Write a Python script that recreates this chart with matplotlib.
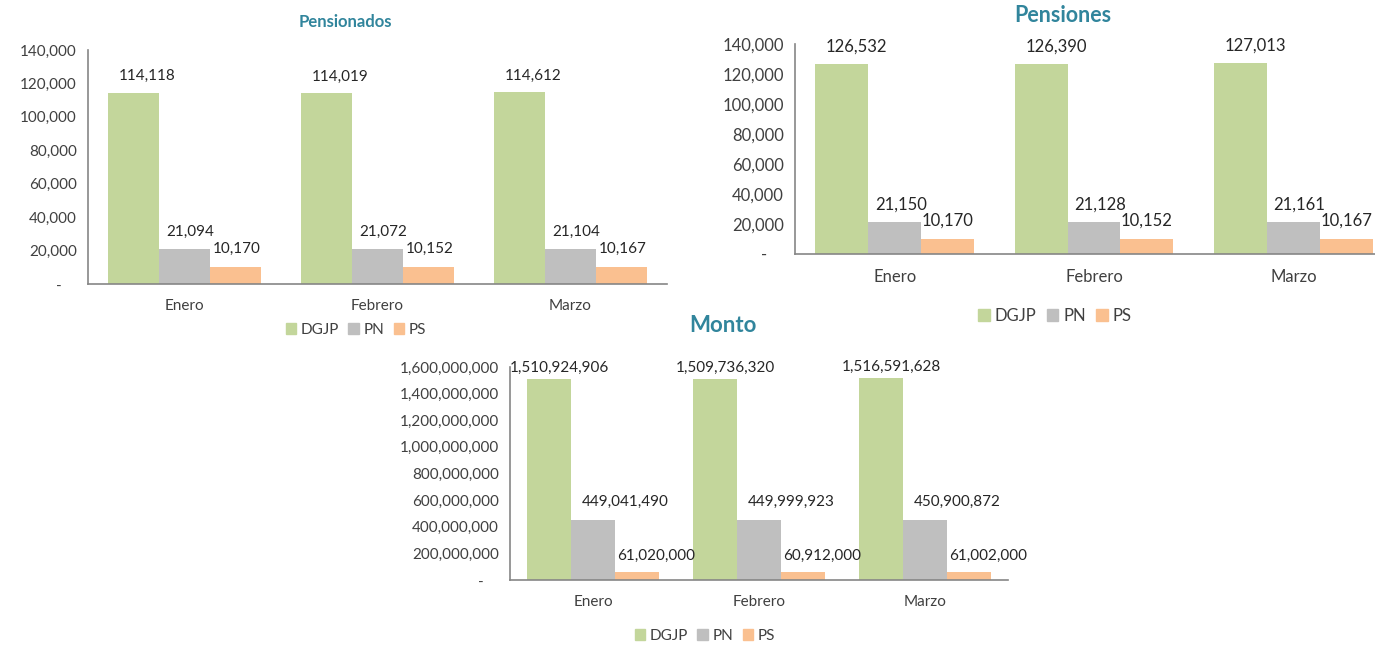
import matplotlib
matplotlib.use("Agg")
import matplotlib.pyplot as plt
import numpy as np
from matplotlib.patches import Patch
from matplotlib.ticker import FuncFormatter, MultipleLocator

plt.rcParams['font.family'] = ['Lato', 'DejaVu Sans']

meses = ['Enero', 'Febrero', 'Marzo']
series = ['DGJP', 'PN', 'PS']

pensionados_dgjp = [114118, 114019, 114612]
pensionados_pn = [21094, 21072, 21104]
pensionados_ps = [10170, 10152, 10167]

pensiones_dgjp = [126532, 126390, 127013]
pensiones_pn = [21150, 21128, 21161]
pensiones_ps = [10170, 10152, 10167]

monto_dgjp = [1510924906, 1509736320, 1516591628]
monto_pn = [449041490, 449999923, 450900872]
monto_ps = [61020000, 60912000, 61002000]

colores = ['#C3D69B', '#BFBFBF', '#FAC090']
W, H = 1375, 646
TXT = '#404040'


def fmt_y(v, pos):
    if v == 0:
        return '-    '
    return f'{v:,.0f}'


def panel(fig, box, valores, ymax, step, title, title_xy, title_size,
          legend_xy, label_dx, label_dy, fs):
    l, r, t, b = box
    ax = fig.add_axes([l / W, 1 - b / H, (r - l) / W, (b - t) / H])
    x = np.arange(len(meses))
    w = 0.265
    for i, vals in enumerate(valores):
        pos = x + (i - 1) * w
        ax.bar(pos, vals, w, color=colores[i], zorder=2)
        for p, v in zip(pos, vals):
            ax.annotate(f'{v:,}', (p, v), xytext=(label_dx[i] * 0.72, label_dy[i] * 0.72),
                        textcoords='offset points', ha='center', va='center',
                        fontsize=fs, color='#262626')
    ax.set_xlim(-0.5, len(meses) - 0.5)
    ax.set_ylim(0, ymax)
    ax.yaxis.set_major_locator(MultipleLocator(step))
    ax.yaxis.set_major_formatter(FuncFormatter(fmt_y))
    ax.set_xticks(x)
    ax.set_xticklabels(meses)
    ax.tick_params(axis='both', length=0, labelsize=fs, colors=TXT)
    ax.tick_params(axis='y', pad=8)
    ax.tick_params(axis='x', pad=11)
    for s in ['top', 'right']:
        ax.spines[s].set_visible(False)
    for s in ['left', 'bottom']:
        ax.spines[s].set_color('#868686')
        ax.spines[s].set_linewidth(1.2)
    ax.set_facecolor('none')
    fig.text(title_xy[0] / W, 1 - title_xy[1] / H, title, ha='center', va='center',
             fontsize=title_size, fontweight='bold', color='#31859C')
    handles = [Patch(color=c) for c in colores]
    fig.legend(handles, series, loc='center',
               bbox_to_anchor=(legend_xy[0] / W, 1 - legend_xy[1] / H),
               ncol=3, frameon=False, fontsize=fs, handlelength=0.7, handleheight=0.7,
               handletextpad=0.3, columnspacing=0.6, labelcolor=TXT)
    return ax


fig = plt.figure(figsize=(W / 100, H / 100), dpi=100)

panel(fig, (88, 667, 50, 284), [pensionados_dgjp, pensionados_pn, pensionados_ps],
      140000, 20000, 'Pensionados', (345, 22), 12, (356, 330),
      [14, 6, 1], [17, 17, 18], 11)

panel(fig, (795, 1393, 44, 254), [pensiones_dgjp, pensiones_pn, pensiones_ps],
      140000, 20000, 'Pensiones', (1063, 15), 15.5, (1055, 316),
      [15, 6, 0], [18, 18, 18], 12)

panel(fig, (510, 1008, 367, 580), [monto_dgjp, monto_pn, monto_ps],
      1.6e9, 2e8, 'Monto', (723, 325), 16, (705, 636),
      [10, 32, 19], [11, 18, 16], 11)

fig.savefig('out.png', dpi=100, facecolor='white')
